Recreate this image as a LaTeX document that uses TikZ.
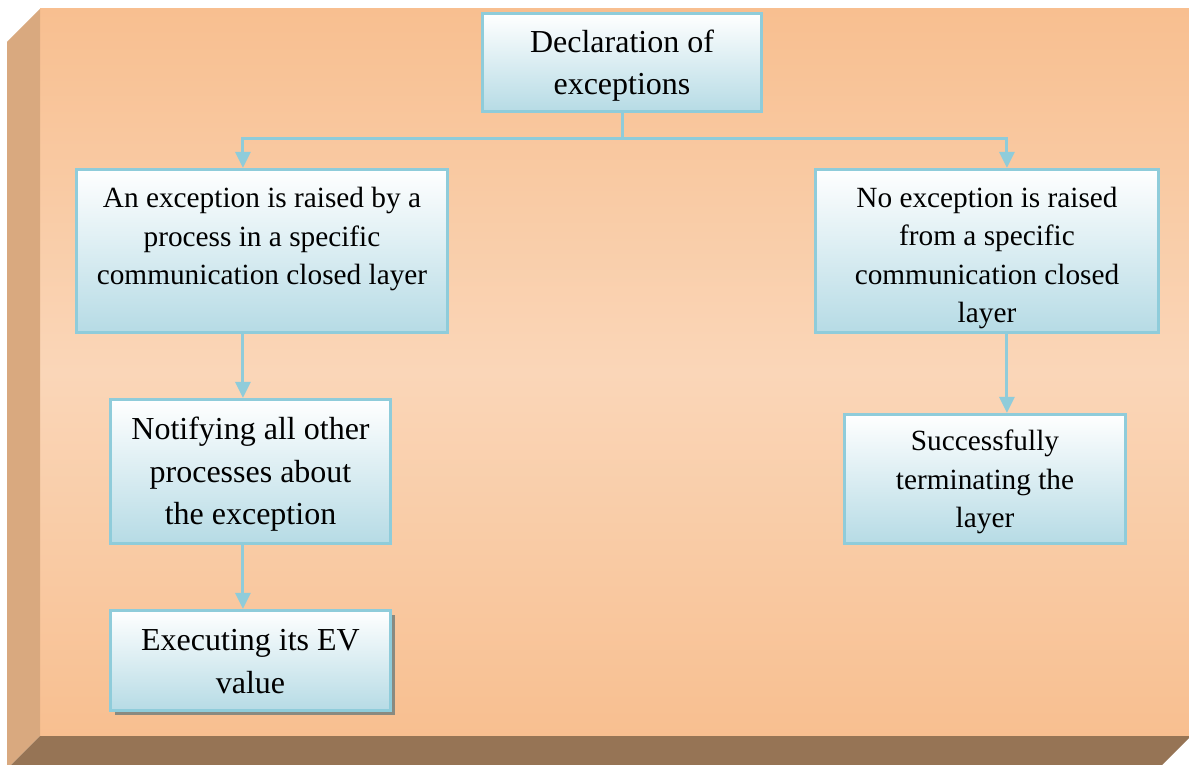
\documentclass[tikz,border=0pt]{standalone}
\usepackage{fontspec}
\setmainfont{Liberation Serif}
\usetikzlibrary{arrows.meta,calc,shadows}

\definecolor{slabfront}{RGB}{248,191,144}
\definecolor{slablight}{RGB}{250,214,184}
\definecolor{slabside}{RGB}{217,169,127}
\definecolor{slabbottom}{RGB}{150,116,85}
\definecolor{boxline}{RGB}{143,204,218}
\definecolor{boxfill}{RGB}{182,219,229}
\definecolor{shadowgrey}{RGB}{138,138,128}

\tikzset{
  stepbox/.style={rectangle, draw=boxline, line width=3.2pt,
    top color=white, bottom color=boxfill, inner sep=0pt},
  bigtext/.style={align=center, font=\fontsize{32}{42.5}\selectfont},
  smalltext/.style={align=center, font=\fontsize{29.3}{38.5}\selectfont},
  link/.style={draw=boxline, line width=3pt},
  arrowlink/.style={link, -{Triangle[length=16pt,width=15pt]}},
}

\begin{document}
\begin{tikzpicture}[x=1pt,y=-1pt]
\useasboundingbox (0,0) rectangle (1189,765);

% slab: front face, left bevel, bottom bevel
\shade[top color=slabfront, bottom color=slabfront, middle color=slablight]
  (40,9) rectangle (1189,736);
\fill[slabside] (7,42) -- (40,9) -- (40,736) -- (11,765) -- (7,765) -- cycle;
\fill[slabbottom] (40,736) -- (1189,736) -- (1189,738) -- (1162,765) -- (11,765) -- cycle;

% boxes
\node[stepbox, minimum width=279, minimum height=98] (decl) at (622,62.5) {};
\node[bigtext] (decl-t) at ($(decl)+(0,3)$) {Declaration of\\exceptions};

\node[stepbox, minimum width=371, minimum height=163] (raised) at (262,251) {};
\node[smalltext] (raised-t) at ($(raised)+(0,-12)$) {An exception is raised by a\\process in a specific\\communication closed layer};

\node[stepbox, minimum width=343, minimum height=163] (noraise) at (987,251) {};
\node[smalltext] (noraise-t) at ($(noraise)+(0,7)$) {No exception is raised\\from a specific\\communication closed\\layer};

\node[stepbox, minimum width=280, minimum height=144] (notify) at (250.5,471.5) {};
\node[bigtext] (notify-t) at ($(notify)+(0,3)$) {Notifying all other\\processes about\\the exception};

\node[stepbox, minimum width=280, minimum height=100,
  drop shadow={shadow xshift=4pt, shadow yshift=-4pt, opacity=1, fill=shadowgrey}]
  (exec) at (250.5,660.5) {};
\node[bigtext] (exec-t) at ($(exec)+(0,1)$) {Executing its EV\\value};

\node[stepbox, minimum width=281, minimum height=129] (success) at (985,479) {};
\node[smalltext] (success-t) at ($(success)+(0,3)$) {Successfully\\terminating the\\layer};

% connectors
\coordinate (split) at ($(decl.south)+(0,25)$);
\draw[link] (decl.south) -- (split);
\draw[arrowlink] (split) -| ($(raised.north west)+(168,0)$);
\draw[arrowlink] (split) -| ($(noraise.north west)+(193,0)$);
\draw[arrowlink] ($(raised.south west)+(168,0)$) -- ($(notify.north west)+(134,0)$);
\draw[arrowlink] ($(notify.south west)+(134,0)$) -- ($(exec.north west)+(134,0)$);
\draw[arrowlink] ($(noraise.south west)+(193,0)$) -- ($(success.north west)+(164,0)$);
\end{tikzpicture}
\end{document}
